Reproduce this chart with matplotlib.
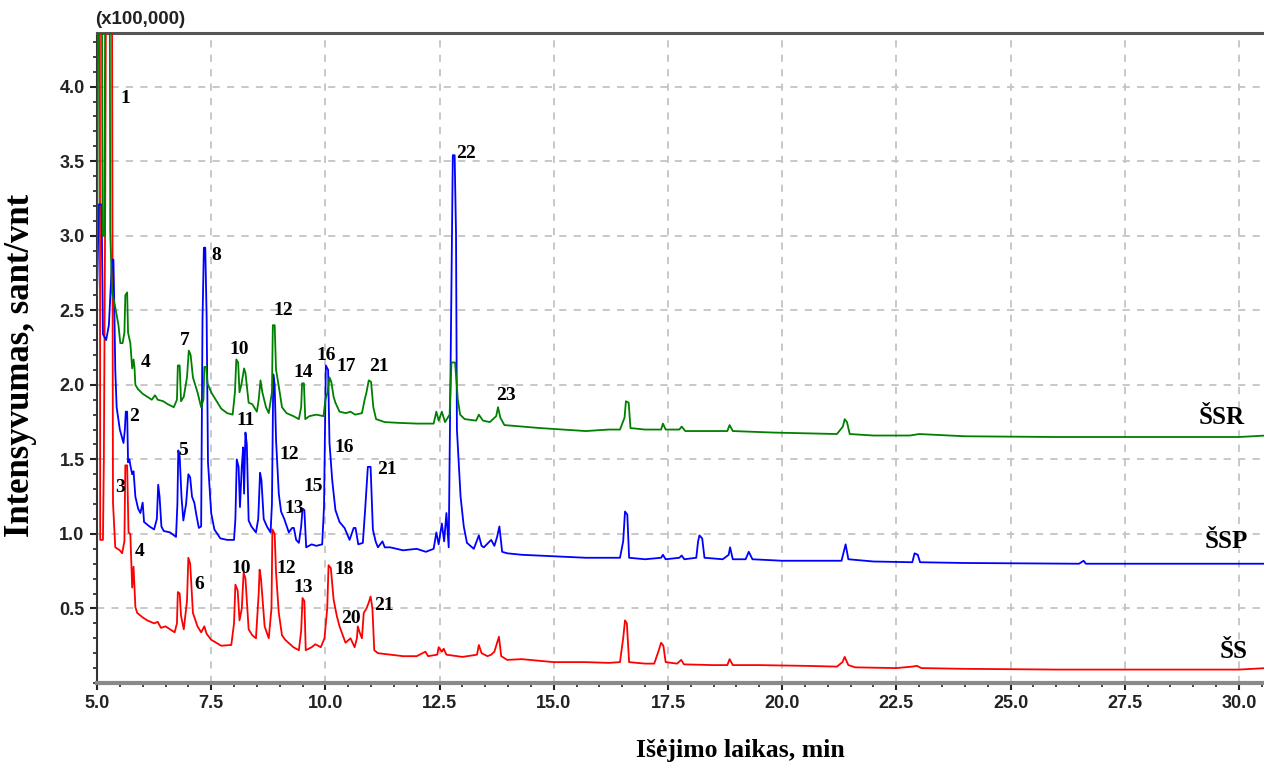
import matplotlib.pyplot as plt
from matplotlib.ticker import MultipleLocator, FormatStrFormatter

# chromatogram traces, (time min, intensity x100000); values above the axis top are off-scale peaks
ssr_points = [
    (5.00, 2.60), (5.05, 6.0), (5.10, 6.0), (5.12, 3.0), (5.16, 3.0), (5.20, 6.0), (5.27, 6.0),
    (5.29, 3.02), (5.33, 2.62), (5.40, 2.52), (5.47, 2.40), (5.51, 2.28), (5.56, 2.28), (5.60, 2.35),
    (5.62, 2.60), (5.66, 2.62), (5.68, 2.35), (5.73, 2.28), (5.77, 2.11), (5.80, 2.17), (5.82, 2.12),
    (5.84, 2.00), (5.90, 1.97), (6.00, 1.94), (6.10, 1.92), (6.20, 1.90), (6.27, 1.93), (6.33, 1.90),
    (6.45, 1.89), (6.55, 1.87), (6.68, 1.85), (6.75, 1.90), (6.77, 2.13), (6.81, 2.13), (6.84, 1.89),
    (6.90, 1.92), (6.97, 2.05), (7.01, 2.23), (7.05, 2.20), (7.10, 2.05), (7.20, 1.95), (7.28, 1.85),
    (7.33, 1.90), (7.35, 2.12), (7.39, 2.12), (7.42, 2.01), (7.50, 1.95), (7.60, 1.90), (7.72, 1.84),
    (7.85, 1.81), (7.97, 1.80), (8.02, 1.95), (8.05, 2.17), (8.09, 2.15), (8.12, 1.95), (8.16, 2.00),
    (8.22, 2.11), (8.25, 2.08), (8.32, 1.88), (8.40, 1.87), (8.50, 1.82), (8.54, 1.90), (8.58, 2.03),
    (8.62, 1.95), (8.70, 1.85), (8.76, 1.81), (8.83, 1.95), (8.85, 2.40), (8.89, 2.40), (8.92, 2.10),
    (8.98, 1.99), (9.05, 1.85), (9.15, 1.81), (9.30, 1.79), (9.42, 1.77), (9.47, 1.85), (9.49, 2.01),
    (9.53, 2.01), (9.56, 1.77), (9.65, 1.79), (9.80, 1.80), (9.96, 1.79), (10.00, 1.90), (10.05, 1.95),
    (10.09, 2.05), (10.13, 2.02), (10.18, 1.92), (10.22, 1.88), (10.31, 1.82), (10.45, 1.81),
    (10.55, 1.82), (10.65, 1.80), (10.80, 1.81), (10.86, 1.90), (10.90, 1.95), (10.95, 2.03),
    (11.00, 2.02), (11.05, 1.85), (11.11, 1.77), (11.30, 1.75), (11.60, 1.745), (12.00, 1.74),
    (12.37, 1.74), (12.43, 1.82), (12.48, 1.76), (12.55, 1.82), (12.62, 1.75), (12.72, 1.80),
    (12.76, 2.15), (12.84, 2.15), (12.90, 1.90), (12.95, 1.80), (13.05, 1.77), (13.30, 1.76),
    (13.36, 1.80), (13.45, 1.76), (13.60, 1.75), (13.74, 1.79), (13.78, 1.85), (13.83, 1.78),
    (13.92, 1.73), (14.30, 1.72), (14.70, 1.71), (15.20, 1.70), (15.70, 1.69), (16.20, 1.70),
    (16.45, 1.70), (16.55, 1.78), (16.58, 1.89), (16.64, 1.88), (16.68, 1.71), (17.00, 1.70),
    (17.35, 1.70), (17.39, 1.74), (17.45, 1.70), (17.75, 1.70), (17.80, 1.72), (17.88, 1.69),
    (18.60, 1.69), (18.80, 1.69), (18.85, 1.73), (18.92, 1.69), (19.80, 1.68), (20.50, 1.675),
    (21.20, 1.67), (21.33, 1.72), (21.37, 1.77), (21.42, 1.75), (21.48, 1.67), (22.00, 1.66),
    (22.80, 1.66), (23.00, 1.67), (24.00, 1.655), (26.00, 1.65), (28.00, 1.65), (30.00, 1.65),
    (30.60, 1.66),
]

ssp_points = [
    (5.00, 2.60), (5.04, 3.21), (5.10, 3.21), (5.13, 2.34), (5.20, 2.30), (5.26, 2.40), (5.33, 2.84),
    (5.36, 2.84), (5.38, 2.50), (5.40, 2.10), (5.43, 1.85), (5.50, 1.70), (5.58, 1.61), (5.61, 1.70),
    (5.63, 1.82), (5.66, 1.82), (5.68, 1.48), (5.71, 1.50), (5.73, 1.46), (5.77, 1.40), (5.80, 1.42),
    (5.84, 1.25), (5.90, 1.17), (5.95, 1.14), (6.00, 1.21), (6.03, 1.08), (6.15, 1.05), (6.25, 1.03),
    (6.31, 1.10), (6.34, 1.33), (6.37, 1.25), (6.41, 1.05), (6.46, 1.02), (6.60, 1.01), (6.73, 0.98),
    (6.76, 1.20), (6.78, 1.56), (6.81, 1.52), (6.85, 1.25), (6.89, 1.09), (6.95, 1.20), (7.00, 1.40),
    (7.04, 1.38), (7.08, 1.25), (7.13, 1.21), (7.18, 1.12), (7.23, 1.04), (7.28, 1.05), (7.31, 2.44),
    (7.34, 2.92), (7.37, 2.92), (7.40, 2.46), (7.43, 1.48), (7.50, 1.14), (7.57, 1.03), (7.70, 0.97),
    (7.85, 0.96), (8.00, 0.96), (8.03, 1.10), (8.06, 1.50), (8.10, 1.45), (8.13, 1.18), (8.17, 1.45),
    (8.20, 1.58), (8.22, 1.27), (8.25, 1.68), (8.28, 1.60), (8.32, 1.09), (8.38, 1.05), (8.48, 1.01),
    (8.53, 1.10), (8.57, 1.41), (8.60, 1.36), (8.65, 1.10), (8.72, 1.05), (8.80, 1.01), (8.83, 1.20),
    (8.86, 2.07), (8.89, 2.00), (8.92, 1.63), (8.98, 1.27), (9.03, 1.15), (9.10, 1.10), (9.20, 1.01),
    (9.27, 1.04), (9.31, 1.04), (9.36, 0.96), (9.42, 0.94), (9.47, 1.05), (9.50, 1.17), (9.54, 1.16),
    (9.58, 0.91), (9.70, 0.93), (9.80, 0.92), (9.93, 0.93), (9.97, 1.18), (10.01, 2.13), (10.06, 2.10),
    (10.09, 1.61), (10.15, 1.36), (10.22, 1.16), (10.31, 1.08), (10.42, 1.04), (10.53, 0.96),
    (10.62, 1.04), (10.66, 1.04), (10.72, 0.93), (10.82, 0.94), (10.87, 1.16), (10.93, 1.45),
    (10.99, 1.45), (11.04, 1.03), (11.10, 0.95), (11.15, 0.91), (11.25, 0.95), (11.30, 0.91),
    (11.42, 0.91), (11.70, 0.89), (12.00, 0.90), (12.20, 0.88), (12.37, 0.90), (12.43, 1.01),
    (12.48, 0.93), (12.55, 1.07), (12.60, 0.95), (12.65, 1.14), (12.70, 0.91), (12.75, 2.35),
    (12.79, 3.54), (12.83, 3.54), (12.86, 3.02), (12.88, 1.70), (12.96, 1.25), (13.03, 1.05),
    (13.10, 0.94), (13.25, 0.90), (13.36, 0.99), (13.42, 0.92), (13.47, 0.91), (13.63, 0.96),
    (13.70, 0.92), (13.76, 0.98), (13.81, 1.05), (13.87, 0.88), (13.98, 0.87), (14.30, 0.86),
    (15.00, 0.85), (15.70, 0.84), (16.20, 0.84), (16.45, 0.84), (16.52, 0.95), (16.56, 1.15),
    (16.61, 1.13), (16.65, 0.84), (17.00, 0.83), (17.35, 0.84), (17.39, 0.86), (17.45, 0.83),
    (17.75, 0.84), (17.80, 0.855), (17.86, 0.83), (18.12, 0.84), (18.16, 0.95), (18.19, 0.99),
    (18.25, 0.97), (18.30, 0.84), (18.70, 0.83), (18.83, 0.86), (18.86, 0.91), (18.92, 0.83),
    (19.20, 0.83), (19.27, 0.88), (19.35, 0.83), (20.00, 0.82), (21.00, 0.82), (21.30, 0.82),
    (21.35, 0.88), (21.39, 0.93), (21.45, 0.83), (22.00, 0.815), (22.85, 0.81), (22.90, 0.87),
    (22.97, 0.86), (23.02, 0.81), (24.00, 0.805), (26.50, 0.80), (26.60, 0.82), (26.65, 0.80),
    (30.60, 0.80),
]

ss_points = [
    (5.00, 3.23), (5.01, 6.0), (5.06, 6.0), (5.07, 0.96), (5.13, 0.96), (5.15, 1.50), (5.18, 3.23),
    (5.21, 6.0), (5.32, 6.0), (5.35, 1.21), (5.40, 0.91), (5.50, 0.89), (5.55, 0.87), (5.60, 0.95),
    (5.62, 1.46), (5.66, 1.46), (5.69, 1.01), (5.73, 1.00), (5.77, 0.64), (5.80, 0.78), (5.84, 0.51),
    (5.88, 0.47), (6.00, 0.44), (6.10, 0.42), (6.25, 0.40), (6.33, 0.41), (6.40, 0.37), (6.50, 0.38),
    (6.60, 0.36), (6.70, 0.34), (6.75, 0.40), (6.77, 0.61), (6.81, 0.60), (6.84, 0.45), (6.90, 0.36),
    (6.97, 0.55), (7.00, 0.84), (7.04, 0.80), (7.10, 0.47), (7.20, 0.38), (7.28, 0.34), (7.35, 0.38),
    (7.40, 0.33), (7.50, 0.29), (7.72, 0.25), (7.94, 0.255), (8.00, 0.40), (8.03, 0.66), (8.08, 0.62),
    (8.12, 0.42), (8.17, 0.50), (8.21, 0.74), (8.25, 0.70), (8.32, 0.36), (8.40, 0.32), (8.48, 0.30),
    (8.54, 0.60), (8.56, 0.76), (8.59, 0.70), (8.67, 0.38), (8.76, 0.30), (8.82, 0.50), (8.84, 1.03),
    (8.89, 1.00), (8.92, 0.74), (8.98, 0.47), (9.05, 0.32), (9.12, 0.29), (9.30, 0.24), (9.42, 0.22),
    (9.47, 0.35), (9.50, 0.57), (9.54, 0.55), (9.57, 0.22), (9.70, 0.24), (9.78, 0.26), (9.90, 0.24),
    (9.98, 0.30), (10.04, 0.50), (10.07, 0.79), (10.12, 0.77), (10.18, 0.56), (10.25, 0.45),
    (10.31, 0.38), (10.44, 0.27), (10.55, 0.30), (10.64, 0.24), (10.69, 0.30), (10.71, 0.38),
    (10.75, 0.34), (10.80, 0.30), (10.84, 0.47), (10.90, 0.50), (10.95, 0.54), (10.99, 0.58),
    (11.03, 0.50), (11.07, 0.22), (11.15, 0.20), (11.42, 0.19), (11.70, 0.18), (12.00, 0.18),
    (12.19, 0.21), (12.25, 0.18), (12.45, 0.19), (12.48, 0.24), (12.55, 0.21), (12.59, 0.23),
    (12.65, 0.19), (13.00, 0.175), (13.32, 0.19), (13.36, 0.255), (13.42, 0.20), (13.55, 0.18),
    (13.63, 0.19), (13.70, 0.21), (13.76, 0.27), (13.80, 0.31), (13.85, 0.18), (13.98, 0.155),
    (14.30, 0.16), (15.00, 0.14), (15.70, 0.14), (16.20, 0.135), (16.45, 0.14), (16.52, 0.30),
    (16.56, 0.42), (16.60, 0.40), (16.65, 0.14), (17.00, 0.13), (17.20, 0.13), (17.30, 0.22),
    (17.35, 0.27), (17.40, 0.25), (17.45, 0.14), (17.70, 0.13), (17.79, 0.155), (17.85, 0.125),
    (18.50, 0.12), (18.80, 0.12), (18.85, 0.16), (18.92, 0.12), (19.50, 0.12), (20.50, 0.115),
    (21.20, 0.11), (21.32, 0.14), (21.37, 0.175), (21.45, 0.12), (21.60, 0.105), (22.50, 0.10),
    (22.85, 0.11), (22.95, 0.115), (23.05, 0.10), (24.00, 0.095), (26.00, 0.09), (28.00, 0.09),
    (30.00, 0.09), (30.60, 0.10),
]

# peak numbers (label, time, intensity)
ssr_peaks = [("1", 5.62, 3.92), ("4", 6.06, 2.15), ("7", 6.92, 2.30), ("10", 8.12, 2.24),
             ("12", 9.07, 2.50), ("14", 9.51, 2.08), ("16", 10.02, 2.20), ("17", 10.46, 2.12),
             ("21", 11.17, 2.12), ("22", 13.08, 3.55), ("23", 13.96, 1.93)]
ssp_peaks = [("2", 5.82, 1.79), ("5", 6.88, 1.56), ("8", 7.61, 2.87), ("11", 8.25, 1.76),
             ("12", 9.20, 1.53), ("13", 9.31, 1.17), ("15", 9.73, 1.32), ("16", 10.42, 1.58),
             ("21", 11.35, 1.43)]
ss_peaks = [("3", 5.51, 1.31), ("4", 5.93, 0.88), ("6", 7.23, 0.66), ("10", 8.16, 0.77),
            ("12", 9.14, 0.77), ("13", 9.51, 0.64), ("18", 10.42, 0.76), ("20", 10.55, 0.43),
            ("21", 11.28, 0.52)]

trace_names = ["ŠSR", "ŠSP", "ŠS"]
trace_name_pos = [(29.62, 1.78), (29.73, 0.95), (29.89, 0.21)]

serif = "Liberation Serif"
sans = "Liberation Sans"

fig = plt.figure(figsize=(12.64, 7.66), dpi=100)
ax = fig.add_axes([97 / 1264, 1 - 683 / 766, 1 - 97 / 1264, (683 - 33) / 766])

for pts, color, z in [(ss_points, "#ff0000", 3), (ssp_points, "#0000ff", 4), (ssr_points, "#008000", 5)]:
    t = [p[0] for p in pts]
    y = [p[1] for p in pts]
    ax.plot(t, y, color=color, lw=1.3, zorder=z)

for peaks in (ssr_peaks, ssp_peaks, ss_peaks):
    for lab, t, y in peaks:
        ax.text(t, y, lab, ha="center", va="center", fontsize=14, fontweight="bold",
                family=serif, zorder=6)

for name, (t, y) in zip(trace_names, trace_name_pos):
    ax.text(t, y, name, ha="center", va="center", fontsize=18, fontweight="bold",
            family=serif, zorder=6)

ax.set_xlim(5.0, 30.55)
ax.set_ylim(0, 4.36)
ax.xaxis.set_major_locator(MultipleLocator(2.5))
ax.xaxis.set_minor_locator(MultipleLocator(0.5))
ax.set_yticks([0.5, 1.0, 1.5, 2.0, 2.5, 3.0, 3.5, 4.0])
ax.yaxis.set_minor_locator(MultipleLocator(0.1))
ax.xaxis.set_major_formatter(FormatStrFormatter("%.1f"))
ax.yaxis.set_major_formatter(FormatStrFormatter("%.1f"))
ax.tick_params(which="major", direction="out", length=5, width=1.5, colors="#222222",
               labelsize=13, pad=4)
ax.tick_params(which="minor", direction="out", length=3, width=1.2, colors="#222222")
for lbl in ax.get_xticklabels() + ax.get_yticklabels():
    lbl.set_fontweight("bold")
    lbl.set_family(sans)

ax.grid(True, which="major", linestyle=(0, (4, 4)), color="#c4c4c4", lw=1.3, zorder=0)
ax.set_axisbelow(True)

ax.spines["top"].set_color("#555555")
ax.spines["top"].set_linewidth(2.2)
ax.spines["bottom"].set_color("#8a8a8a")
ax.spines["bottom"].set_linewidth(3)
ax.spines["left"].set_color("#333333")
ax.spines["left"].set_linewidth(1.5)
ax.spines["right"].set_visible(False)

fig.text(140 / 1264, 1 - 20 / 766, "(x100,000)", ha="center", va="center", fontsize=13.5,
         fontweight="bold", family=sans, color="#222222")
fig.text(21 / 1264, 1 - 365 / 766, "Intensyvumas, sant/vnt", rotation=90, ha="center",
         va="center", fontsize=25, fontweight="bold", family=serif)
fig.text(740 / 1264, 1 - 750 / 766, "Išėjimo laikas, min", ha="center", va="center",
         fontsize=18.5, fontweight="bold", family=serif)

fig.savefig("out.png", dpi=100)
